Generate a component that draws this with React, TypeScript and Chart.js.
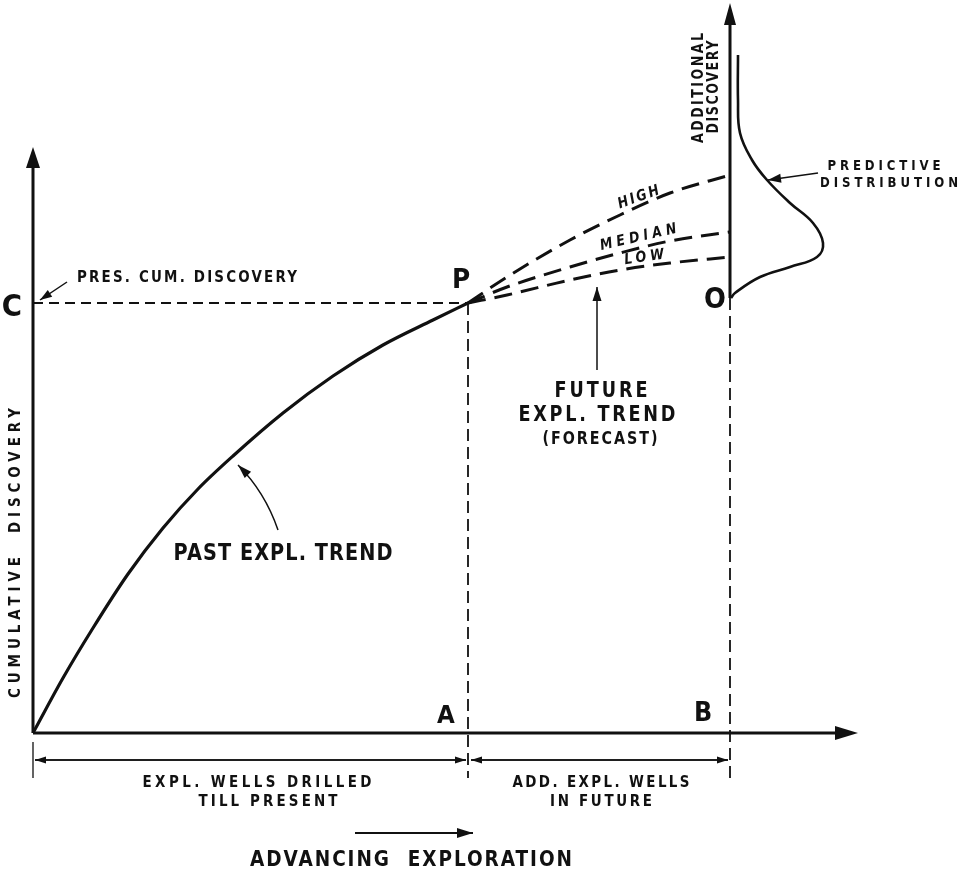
import React, { useEffect, useRef } from "react";
import { Chart, registerables } from "chart.js";

Chart.register(...registerables);

// Data units: x = exploration wells drilled (origin = 0), y = cumulative discovery (origin = 0)
const X_MIN = -33;
const X_MAX = 926;
const Y_MIN = -140;
const Y_MAX = 733;

const PRESENT_WELLS = 435; // point A
const FUTURE_WELLS = 697; // point B
const PRESENT_DISCOVERY = 430; // point C / P

// Past exploration trend
const pastWells = [0, 30, 60, 95, 130, 165, 200, 250, 300, 350, 400, 435];
const pastDiscovery = [0, 55, 105, 159, 205, 244, 277, 320, 357, 388, 413, 430];

// Future exploration trend (forecast)
const forecastWells = [435, 474, 537, 587, 637, 697];
const highForecast = [430, 456, 493, 518, 540, 558];
const medianForecast = [430, 446, 466, 480, 492, 501];
const lowForecast = [430, 438, 453, 463, 470, 476];

// Predictive distribution on the additional-discovery axis
const distDensity = [705, 705, 707, 719, 734, 757, 780, 790, 784, 757, 727, 702, 698];
const distDiscovery = [678, 633, 600, 573, 553, 530, 510, 490, 476, 466, 456, 440, 435];

// Axes extents
const yAxisTop = 586;
const xAxisRight = 825;
const addAxisTop = 730;
const guideBottom = -45;
const dimensionLevel = -27;

const pts = (xs: number[], ys: number[]) => xs.map((x, i) => ({ x, y: ys[i] }));

type Label = {
  t: string;
  x: number;
  y: number;
  size: number;
  w?: number;
  rot?: number;
  italic?: boolean;
};

const labels: Label[] = [
  { t: "PRES. CUM. DISCOVERY", x: 154, y: 457, size: 16, w: 220 },
  { t: "C", x: -21, y: 428, size: 30 },
  { t: "P", x: 428, y: 455, size: 27 },
  { t: "O", x: 682, y: 435, size: 28 },
  { t: "A", x: 413, y: 19, size: 25 },
  { t: "B", x: 670, y: 21, size: 26 },
  { t: "HIGH", x: 605, y: 537, size: 15, w: 43, rot: -20, italic: true },
  { t: "MEDIAN", x: 605, y: 497, size: 15, w: 78, rot: -13, italic: true },
  { t: "LOW", x: 611, y: 477, size: 15, w: 40, rot: -8, italic: true },
  { t: "PREDICTIVE", x: 851, y: 568, size: 14, w: 113 },
  { t: "DISTRIBUTION", x: 856, y: 551, size: 14, w: 138 },
  { t: "ADDITIONAL", x: 665, y: 645, size: 15, w: 110, rot: -90 },
  { t: "DISCOVERY", x: 680, y: 646, size: 15, w: 93, rot: -90 },
  { t: "CUMULATIVE  DISCOVERY", x: -19, y: 180, size: 16, w: 290, rot: -90 },
  { t: "PAST EXPL. TREND", x: 250, y: 181, size: 23, w: 219 },
  { t: "FUTURE", x: 568, y: 344, size: 21, w: 93 },
  { t: "EXPL. TREND", x: 564, y: 320, size: 21, w: 157 },
  { t: "(FORECAST)", x: 567, y: 295, size: 17, w: 115 },
  { t: "EXPL. WELLS DRILLED", x: 224, y: -48, size: 16, w: 229 },
  { t: "TILL PRESENT", x: 235, y: -67, size: 16, w: 139 },
  { t: "ADD. EXPL. WELLS", x: 568, y: -48, size: 16, w: 177 },
  { t: "IN FUTURE", x: 568, y: -67, size: 16, w: 102 },
  { t: "ADVANCING  EXPLORATION", x: 378, y: -125, size: 22, w: 322 },
];

type Arrow = { from: [number, number]; to: [number, number]; ctrl?: [number, number]; len: number; hw: number; lw: number };

const arrows: Arrow[] = [
  { from: [34, 451], to: [7, 433], len: 12, hw: 4, lw: 1.5 },
  { from: [245, 203], ctrl: [232, 241], to: [205, 268], len: 14, hw: 4.5, lw: 1.5 },
  { from: [564, 363], to: [564, 446], len: 14, hw: 4.5, lw: 1.5 },
  { from: [785, 560], to: [735, 553], len: 13, hw: 4.5, lw: 1.5 },
  { from: [322, -100], to: [440, -100], len: 16, hw: 5, lw: 2 },
  // dimension line heads
  { from: [217, dimensionLevel], to: [2, dimensionLevel], len: 11, hw: 3.5, lw: 1.3 },
  { from: [217, dimensionLevel], to: [433, dimensionLevel], len: 11, hw: 3.5, lw: 1.3 },
  { from: [566, dimensionLevel], to: [438, dimensionLevel], len: 11, hw: 3.5, lw: 1.3 },
  { from: [566, dimensionLevel], to: [695, dimensionLevel], len: 11, hw: 3.5, lw: 1.3 },
];

// axis arrowheads (filled only)
const axisHeads: Arrow[] = [
  { from: [0, 0], to: [0, yAxisTop], len: 21, hw: 7, lw: 0 },
  { from: [0, 0], to: [xAxisRight, 0], len: 23, hw: 7, lw: 0 },
  { from: [FUTURE_WELLS, 435], to: [FUTURE_WELLS, addAxisTop], len: 22, hw: 6, lw: 0 },
];

const INK = "#111";
const FONT = '"DejaVu Sans", "Liberation Sans", sans-serif';

const overlay = {
  id: "overlay",
  afterDatasetsDraw(chart: any) {
    const ctx: CanvasRenderingContext2D = chart.ctx;
    const sx = chart.scales.x;
    const sy = chart.scales.y;
    const P = (x: number, y: number): [number, number] => [sx.getPixelForValue(x), sy.getPixelForValue(y)];

    const head = (a: Arrow) => {
      const [tx, ty] = P(a.to[0], a.to[1]);
      const src = a.ctrl ?? a.from;
      const [fx, fy] = P(src[0], src[1]);
      let dx = tx - fx;
      let dy = ty - fy;
      const l = Math.hypot(dx, dy) || 1;
      dx /= l;
      dy /= l;
      const bx = tx - dx * a.len;
      const by = ty - dy * a.len;
      ctx.beginPath();
      ctx.moveTo(tx, ty);
      ctx.lineTo(bx - dy * a.hw, by + dx * a.hw);
      ctx.lineTo(bx + dy * a.hw, by - dx * a.hw);
      ctx.closePath();
      ctx.fill();
    };

    ctx.save();
    ctx.fillStyle = INK;
    ctx.strokeStyle = INK;
    ctx.lineCap = "butt";

    arrows.forEach((a) => {
      const [fx, fy] = P(a.from[0], a.from[1]);
      const [tx, ty] = P(a.to[0], a.to[1]);
      ctx.lineWidth = a.lw;
      ctx.beginPath();
      ctx.moveTo(fx, fy);
      if (a.ctrl) {
        const [cx, cy] = P(a.ctrl[0], a.ctrl[1]);
        ctx.quadraticCurveTo(cx, cy, tx, ty);
      } else {
        ctx.lineTo(tx, ty);
      }
      ctx.stroke();
      head(a);
    });
    axisHeads.forEach(head);

    labels.forEach((lb) => {
      const [x, y] = P(lb.x, lb.y);
      const single = lb.t.length === 1;
      const hs = single ? 0.92 : 0.84; // lettering-stencil glyphs are narrower
      ctx.save();
      ctx.translate(x, y);
      if (lb.rot) ctx.rotate((lb.rot * Math.PI) / 180);
      ctx.scale(hs, 1);
      ctx.font = `${lb.italic ? "italic " : ""}bold ${lb.size}px ${FONT}`;
      (ctx as any).letterSpacing = "0px";
      const w0 = ctx.measureText(lb.t).width;
      let w = w0;
      if (lb.w && !single) {
        const target = lb.w / hs;
        const ls = (target - w0) / (lb.t.length - 1);
        (ctx as any).letterSpacing = `${ls}px`;
        w = target;
      }
      ctx.textAlign = "left";
      ctx.textBaseline = "alphabetic";
      const cap = lb.size * 0.729;
      ctx.fillText(lb.t, -w / 2, cap / 2);
      ctx.restore();
    });
    ctx.restore();
  },
};

export default function App() {
  const ref = useRef<HTMLCanvasElement | null>(null);

  useEffect(() => {
    if (!ref.current) return;
    const solid = (data: any[], width: number, extra: any = {}) => ({
      data,
      showLine: true,
      borderColor: INK,
      borderWidth: width,
      pointRadius: 0,
      fill: false,
      ...extra,
    });

    const chart = new Chart(ref.current, {
      type: "scatter",
      data: {
        datasets: [
          // axes
          solid(pts([0, 0], [0, yAxisTop - 8]), 3),
          solid(pts([0, xAxisRight - 8], [0, 0]), 3),
          solid(pts([FUTURE_WELLS, FUTURE_WELLS], [PRESENT_DISCOVERY + 5, addAxisTop - 8]), 3),
          // guide dashed lines
          solid(pts([0, PRESENT_WELLS], [PRESENT_DISCOVERY, PRESENT_DISCOVERY]), 1.8, { borderDash: [10, 6] }),
          solid(pts([PRESENT_WELLS, PRESENT_WELLS], [PRESENT_DISCOVERY, guideBottom]), 1.8, { borderDash: [12, 6] }),
          solid(pts([FUTURE_WELLS, FUTURE_WELLS], [PRESENT_DISCOVERY + 5, guideBottom]), 1.8, { borderDash: [12, 6] }),
          solid(pts([0, 0], [-9, guideBottom]), 1.3),
          // dimension lines
          solid(pts([2, 433], [dimensionLevel, dimensionLevel]), 1.3),
          solid(pts([438, 695], [dimensionLevel, dimensionLevel]), 1.3),
          // past trend
          solid(pts(pastWells, pastDiscovery), 3.2, { cubicInterpolationMode: "monotone" }),
          // forecasts
          solid(pts(forecastWells, highForecast), 3, { cubicInterpolationMode: "monotone", borderDash: [18, 9] }),
          solid(pts(forecastWells, medianForecast), 3, { cubicInterpolationMode: "monotone", borderDash: [18, 9] }),
          solid(pts(forecastWells, lowForecast), 3, { cubicInterpolationMode: "monotone", borderDash: [18, 9] }),
          // predictive distribution
          solid(pts(distDensity, distDiscovery), 2.6, { tension: 0.4 }),
        ],
      },
      options: {
        animation: false,
        responsive: true,
        maintainAspectRatio: false,
        layout: { padding: 0 },
        plugins: { legend: { display: false }, tooltip: { enabled: false } },
        events: [],
        scales: {
          x: { type: "linear", min: X_MIN, max: X_MAX, display: false },
          y: { type: "linear", min: Y_MIN, max: Y_MAX, display: false },
        },
      },
      plugins: [overlay],
    });
    return () => chart.destroy();
  }, []);

  return (
    <div style={{ position: "fixed", left: 0, top: 0, width: 959, height: 873, background: "#fff" }}>
      <canvas ref={ref} />
    </div>
  );
}
